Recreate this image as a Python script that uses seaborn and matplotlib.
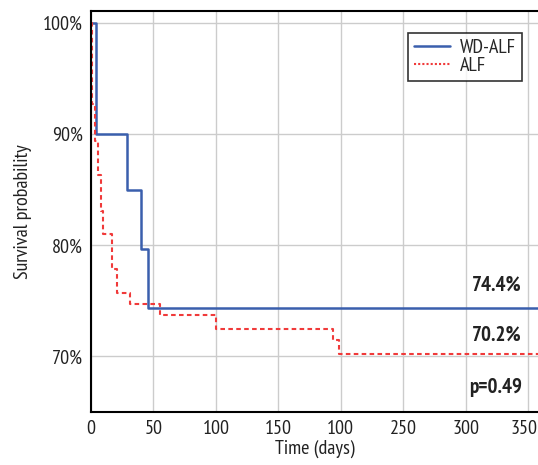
import matplotlib
matplotlib.use("Agg")
import matplotlib.pyplot as plt
import matplotlib.transforms as mtransforms
import seaborn as sns
import pandas as pd
from matplotlib.font_manager import fontManager

# ---- data ----
wd_days = [0, 4, 29, 40, 46, 358]
wd_surv = [1.000, 0.900, 0.850, 0.797, 0.744, 0.744]

alf_days = [0, 0.5, 3.5, 6, 8, 10, 17, 20.5, 31, 55, 100, 194, 199, 358]
alf_surv = [1.000, 0.927, 0.894, 0.863, 0.831, 0.810, 0.779, 0.757, 0.747,
            0.737, 0.725, 0.715, 0.702, 0.702]

series_names = ["WD-ALF", "ALF"]
x_ticks = [0, 50, 100, 150, 200, 250, 300, 350]
x_tick_labels = ["0", "50", "100", "150", "100", "250", "300", "350"]
y_ticks = [0.70, 0.80, 0.90, 1.00]
y_tick_labels = ["70%", "80%", "90%", "100%"]
annotations = ["74.4%", "70.2%", "p=0.49"]

names = {f.name for f in fontManager.ttflist}
prefs = ["PT Sans Narrow", "Fira Sans Condensed", "Asap Condensed",
         "Roboto Condensed", "Open Sans Condensed", "IBM Plex Sans Condensed",
         "Archivo Narrow", "Encode Sans Condensed", "Barlow Semi Condensed",
         "Liberation Sans Narrow"]
fam = next((p for p in prefs if p in names), "DejaVu Sans")

sns.set_style("white")
plt.rcParams["font.family"] = [fam, "DejaVu Sans"]

df_wd = pd.DataFrame({"days": wd_days, "surv": wd_surv})
df_alf = pd.DataFrame({"days": alf_days, "surv": alf_surv})

fig = plt.figure(figsize=(5.38, 4.65), dpi=100)
ax = fig.add_axes([91 / 538, 1 - 412 / 465, 1 - 91 / 538, (412 - 10.7) / 465])

sns.lineplot(data=df_wd, x="days", y="surv", ax=ax, drawstyle="steps-post",
             estimator=None, sort=False, color="#3a5fad", linewidth=1.8,
             label=series_names[0])
sns.lineplot(data=df_alf, x="days", y="surv", ax=ax, drawstyle="steps-post",
             estimator=None, sort=False, color="#f03a3a", linewidth=1.5,
             linestyle=(0, (2.2, 1.6)), label=series_names[1])

fs = 14.5
ax.set_xlim(0, 358)
ax.set_ylim(0.65, 1.011)
ax.set_xticks(x_ticks)
ax.set_xticklabels(x_tick_labels, fontsize=fs, color="#222222")
ax.set_yticks(y_ticks)
ax.set_yticklabels(y_tick_labels, fontsize=fs, color="#222222")
ax.tick_params(axis="both", direction="in", length=3, width=1, color="black", pad=6)
ax.grid(True, color="#cccccc", linewidth=1)
ax.set_axisbelow(True)

# nudge the last x tick label so it stays inside the canvas
last = ax.get_xticklabels()[-1]
last.set_transform(last.get_transform() +
                   mtransforms.ScaledTranslation(-4 / 100, 0, fig.dpi_scale_trans))

for s in ["left", "bottom", "top"]:
    ax.spines[s].set_color("black")
    ax.spines[s].set_linewidth(1.5)
ax.spines["right"].set_visible(False)

ax.set_xlabel("Time (days)", fontsize=fs, color="#222222", labelpad=1)
ax.set_ylabel("Survival probability", fontsize=fs, color="#222222", labelpad=8)

ax.text(345, 0.764, annotations[0], ha="right", va="center", fontsize=15,
        fontweight="bold", color="#222222")
ax.text(345, 0.719, annotations[1], ha="right", va="center", fontsize=15,
        fontweight="bold", color="#222222")
ax.text(345, 0.672, annotations[2], ha="right", va="center", fontsize=15,
        fontweight="bold", color="#222222")

leg = ax.legend(loc="upper right", bbox_to_anchor=(0.964, 0.944), frameon=True,
                fancybox=False, edgecolor="black", fontsize=fs,
                handlelength=1.8, handletextpad=0.5, borderpad=0.3,
                labelspacing=0.0, borderaxespad=0.0, borderpad_=None) if False else \
      ax.legend(loc="upper right", bbox_to_anchor=(0.964, 0.944), frameon=True,
                fancybox=False, edgecolor="black", fontsize=fs,
                handlelength=1.8, handletextpad=0.5, borderpad=0.3,
                labelspacing=0.0, borderaxespad=0.0)
leg.get_frame().set_linewidth(1.2)
leg.get_lines()[1].set_linestyle((0, (1, 1)))

fig.savefig("out.png", dpi=100)
